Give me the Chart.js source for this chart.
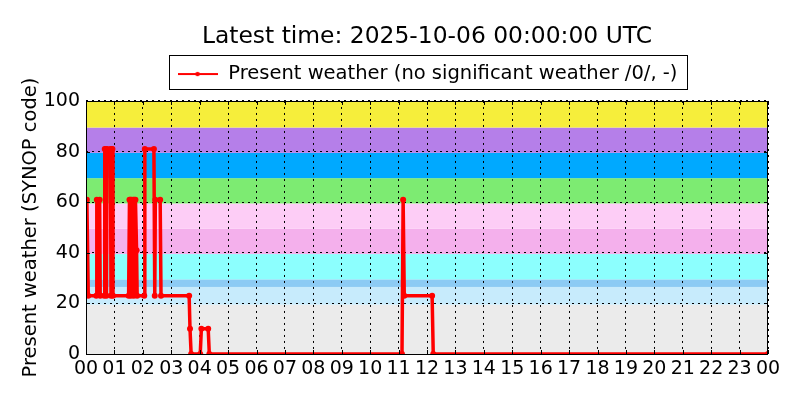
<!DOCTYPE html>
<html>
<head>
<meta charset="utf-8">
<title>Present weather</title>
<script src="https://cdn.jsdelivr.net/npm/chart.js@4/dist/chart.umd.min.js"></script>
<style>
    html, body { margin: 0; padding: 0; background: #fff; }
    #chart-wrap { width: 800px; height: 400px; }
</style>
</head>
<body>
<div id="chart-wrap"><canvas id="weather-chart"></canvas></div>
<script>
// observation times (hours since 00 UTC) and SYNOP present weather codes
const hours = [
    0.03, 0.08, 0.36, 0.38, 0.48, 0.50,
    0.64, 0.66, 0.70, 0.72, 0.74, 0.86, 0.88, 0.90, 0.93, 0.95,
    1.50, 1.53, 1.56, 1.58, 1.60, 1.66, 1.68, 1.70, 1.74, 1.78, 1.80,
    2.05, 2.07, 2.39, 2.42, 2.44, 2.61, 2.64,
    3.63, 3.66, 3.70, 4.02, 4.06, 4.30, 4.34,
    11.12, 11.16, 11.20, 12.18, 12.22, 24.0
];
const codes = [
    61, 23, 23, 61, 61, 23,
    23, 81, 81, 23, 81, 81, 23, 81, 81, 23,
    23, 61, 61, 23, 61, 61, 23, 61, 61, 41, 23,
    23, 81, 81, 23, 61, 61, 23,
    23, 10, 0, 0, 10, 10, 0,
    0, 61, 23, 23, 0, 0
];

const hourLabels = ['00', '01', '02', '03', '04', '05', '06', '07', '08', '09', '10', '11',
    '12', '13', '14', '15', '16', '17', '18', '19', '20', '21', '22', '23', '00'];
const codeTicks = [0, 20, 40, 60, 80, 100];

// code groups shaded behind the plot
const bandEdges = [0, 19.5, 26.5, 29.5, 39.5, 49.5, 59.5, 69.5, 79.5, 89.5, 100];
const bandColors = ['#ebebeb', '#c7ebfc', '#8ccbf4', '#8cfffe', '#f4b0ec',
    '#fdcdf6', '#7deb72', '#00a9ff', '#b57fe9', '#f6ee3b'];

const titleText = 'Latest time: 2025-10-06 00:00:00 UTC';
const seriesLabel = 'Present weather (no significant weather /0/, -)';
const yTitle = 'Present weather (SYNOP code)';

const FONT = 'DejaVu Sans';

document.addEventListener('DOMContentLoaded', function() {
    drawChart();
});

function makeLegendIcon() {
    // short line with a marker in the middle
    const c = document.createElement('canvas');
    c.width = 40;
    c.height = 10;
    const g = c.getContext('2d');
    g.strokeStyle = '#ff0000';
    g.lineWidth = 2;
    g.beginPath();
    g.moveTo(0, 5);
    g.lineTo(40, 5);
    g.stroke();
    g.fillStyle = '#ff0000';
    g.beginPath();
    g.arc(20, 5, 2.2, 0, Math.PI * 2);
    g.fill();
    return c;
}

const backgroundBands = {
    id: 'backgroundBands',
    beforeDraw(chart) {
        const { ctx, chartArea, scales: { y } } = chart;
        ctx.save();
        for (let i = 0; i < bandColors.length; i++) {
            const top = y.getPixelForValue(bandEdges[i + 1]);
            const bottom = y.getPixelForValue(bandEdges[i]);
            ctx.fillStyle = bandColors[i];
            ctx.fillRect(chartArea.left, top, chartArea.right - chartArea.left, bottom - top);
        }
        ctx.restore();
    }
};

const axesFrame = {
    id: 'axesFrame',
    afterDatasetsDraw(chart) {
        const { ctx, chartArea: a, scales: { x, y } } = chart;
        ctx.save();
        ctx.strokeStyle = '#000';
        ctx.lineWidth = 1;
        ctx.beginPath();
        // inward tick marks on all four sides
        x.ticks.forEach(t => {
            const px = Math.round(x.getPixelForValue(t.value)) + 0.5;
            ctx.moveTo(px, a.bottom);
            ctx.lineTo(px, a.bottom - 4);
            ctx.moveTo(px, a.top);
            ctx.lineTo(px, a.top + 4);
        });
        y.ticks.forEach(t => {
            const py = Math.round(y.getPixelForValue(t.value)) + 0.5;
            ctx.moveTo(a.left, py);
            ctx.lineTo(a.left + 4, py);
            ctx.moveTo(a.right, py);
            ctx.lineTo(a.right - 4, py);
        });
        ctx.stroke();
        ctx.strokeRect(Math.round(a.left) + 0.5, Math.round(a.top) + 0.5,
            Math.round(a.right - a.left) - 1, Math.round(a.bottom - a.top));
        ctx.restore();
    }
};

const legendFrame = {
    id: 'legendFrame',
    afterDraw(chart) {
        const box = chart.legend.legendHitBoxes[0];
        if (!box) return;
        const { ctx } = chart;
        const mid = box.top + box.height / 2 - 2;
        ctx.save();
        ctx.strokeStyle = '#000';
        ctx.lineWidth = 1;
        ctx.strokeRect(Math.round(box.left - 8) + 0.5, Math.round(mid - 17) + 0.5,
            Math.round(box.width + 17), 34);
        ctx.restore();
    }
};

function drawChart() {
    const ctx = document.getElementById('weather-chart').getContext('2d');
    new Chart(ctx, {
        type: 'line',
        data: {
            datasets: [{
                label: seriesLabel,
                data: hours.map((h, i) => ({ x: h, y: codes[i] })),
                borderColor: '#ff0000',
                backgroundColor: '#ff0000',
                borderWidth: 3.5,
                pointRadius: 3,
                pointBorderWidth: 0,
                pointHoverRadius: 0,
                tension: 0,
                clip: 0,
                borderJoinStyle: 'round',
                borderCapStyle: 'round'
            }]
        },
        options: {
            responsive: true,
            maintainAspectRatio: false,
            animation: false,
            events: [],
            layout: { padding: { left: 0, right: 32, top: 0, bottom: 0 } },
            scales: {
                x: {
                    type: 'linear',
                    min: 0,
                    max: 24,
                    afterFit: s => { s.height = 46; },
                    afterBuildTicks: s => { s.ticks = hourLabels.map((_, i) => ({ value: i })); },
                    ticks: {
                        autoSkip: false,
                        maxRotation: 0,
                        padding: 4,
                        color: '#000',
                        font: { family: FONT, size: 19 },
                        callback: v => hourLabels[v]
                    },
                    grid: { color: '#000', lineWidth: 1, drawTicks: false },
                    border: { display: false, dash: [2, 4] }
                },
                y: {
                    min: 0,
                    max: 100,
                    afterFit: s => { s.width = 86; },
                    afterBuildTicks: s => { s.ticks = codeTicks.map(v => ({ value: v })); },
                    ticks: {
                        padding: 6,
                        color: '#000',
                        font: { family: FONT, size: 19 }
                    },
                    grid: { color: '#000', lineWidth: 1, drawTicks: false },
                    border: { display: false, dash: [2, 4] },
                    title: {
                        display: true,
                        text: yTitle,
                        color: '#000',
                        font: { family: FONT, size: 19.5 },
                        padding: { top: 19, bottom: 0 }
                    }
                }
            },
            plugins: {
                title: {
                    display: true,
                    text: titleText,
                    fullSize: false,
                    color: '#000',
                    font: { family: FONT, size: 23.4, weight: 'normal' },
                    padding: { top: 23, bottom: 0 }
                },
                legend: {
                    display: true,
                    fullSize: false,
                    labels: {
                        usePointStyle: true,
                        pointStyle: makeLegendIcon(),
                        pointStyleWidth: 42,
                        padding: 13.2,
                        color: '#000',
                        font: { family: FONT, size: 19.5 }
                    }
                },
                // empty subtitle below the legend, only used as a spacer
                subtitle: {
                    display: true,
                    text: '',
                    weight: 500,
                    fullSize: false,
                    font: { size: 6, lineHeight: 1 },
                    padding: { top: 1.2, bottom: 0 }
                },
                tooltip: { enabled: false }
            }
        },
        plugins: [backgroundBands, axesFrame, legendFrame]
    });
}
</script>
</body>
</html>
